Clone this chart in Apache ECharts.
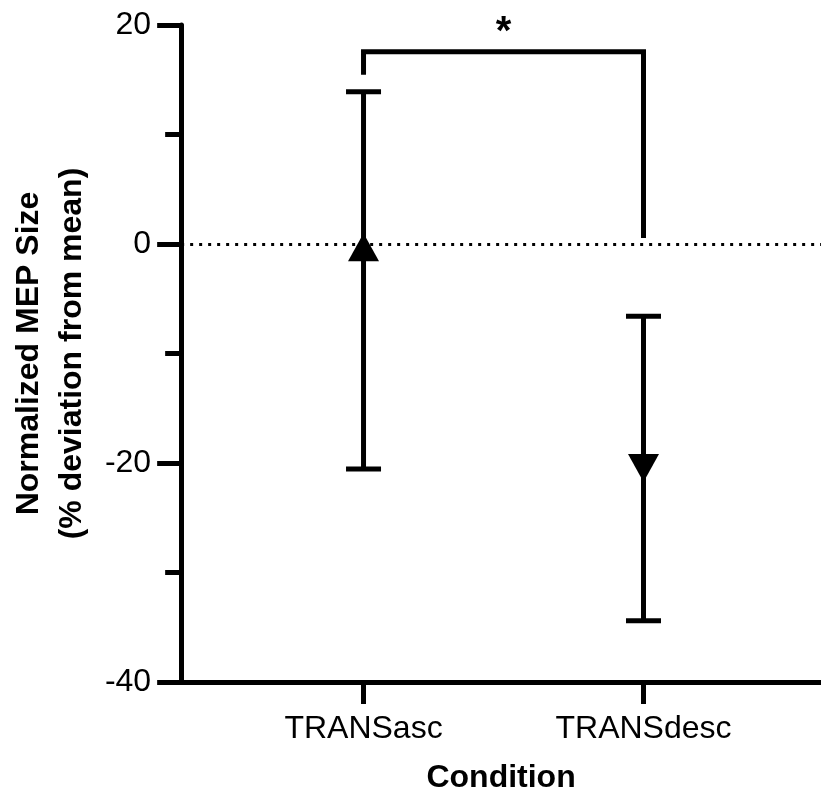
<!DOCTYPE html>
<html>
<head>
<meta charset="utf-8">
<script src="https://cdn.jsdelivr.net/npm/echarts@6/dist/echarts.min.js"></script>
<style>html,body{margin:0;padding:0;background:#fff;}#c{width:821px;height:799px;}</style>
</head>
<body>
<div id="c"></div>
<script>
// ---- data ----
const categories = ['TRANSasc', 'TRANSdesc'];
const catPos = [1, 2];
const means = [-0.3, -20.45];
const upper = [13.9, -6.6];
const lower = [-20.55, -34.4];
const markerSymbols = ['triangle', 'triangle'];
const markerRotate = [0, 180];
const bracketLegBottom = [15.45, 0.55];
const bracketTop = 17.55;
const sigLabel = '*';
const sigY = 19.3;
const yMin = -40, yMax = 20, yInterval = 20;
const xMin = 0.3486, xMax = 2.634;

const FONT = '"Liberation Sans", Arial, Helvetica, sans-serif';
const chart = echarts.init(document.getElementById('c'), null, {renderer: 'canvas'});

const errData = catPos.map((p, i) => [p, upper[i], lower[i]]);
const ptData = catPos.map((p, i) => ({value: [p, means[i]], symbol: markerSymbols[i], symbolRotate: markerRotate[i]}));

chart.setOption({
  animation: false,
  backgroundColor: '#fff',
  grid: {left: 172, right: 0, top: 25, bottom: 114, containLabel: false},
  xAxis: {
    type: 'value', min: xMin, max: xMax,
    name: 'Condition', nameLocation: 'middle', nameGap: 80,
    nameTextStyle: {fontFamily: FONT, fontSize: 32, fontWeight: 'bold', color: '#000'},
    axisLine: {show: true, onZero: false, lineStyle: {color: '#000', width: 5}},
    axisTick: {show: true, length: 22, lineStyle: {color: '#000', width: 5}, customValues: catPos},
    axisLabel: {show: true, margin: 31, fontFamily: FONT, fontSize: 32, color: '#000', customValues: catPos,
      formatter: v => categories[catPos.indexOf(Math.round(v))] || ''},
    splitLine: {show: false}
  },
  yAxis: {
    type: 'value', min: yMin, max: yMax, interval: yInterval,
    name: 'Normalized MEP Size\n(% deviation from mean)', nameLocation: 'middle', nameGap: 78,
    nameTextStyle: {fontFamily: FONT, fontSize: 32, fontWeight: 'bold', color: '#000', lineHeight: 43, align: 'center'},
    axisLine: {show: true, onZero: false, lineStyle: {color: '#000', width: 5}},
    axisTick: {show: true, length: 24, lineStyle: {color: '#000', width: 5}},
    minorTick: {show: true, splitNumber: 2, length: 16, lineStyle: {color: '#000', width: 5}},
    axisLabel: {margin: 30, fontFamily: FONT, fontSize: 32, color: '#000'},
    splitLine: {show: false}
  },
  series: [
    {
      type: 'custom', z: 3, clip: false,
      data: errData,
      renderItem: function (params, api) {
        const top = api.coord([api.value(0), api.value(1)]);
        const bot = api.coord([api.value(0), api.value(2)]);
        const hw = 17.5;
        const st = {stroke: '#000', lineWidth: 5};
        return {type: 'group', children: [
          {type: 'line', shape: {x1: top[0], y1: top[1], x2: bot[0], y2: bot[1]}, style: st},
          {type: 'line', shape: {x1: top[0] - hw, y1: top[1], x2: top[0] + hw, y2: top[1]}, style: st},
          {type: 'line', shape: {x1: bot[0] - hw, y1: bot[1], x2: bot[0] + hw, y2: bot[1]}, style: st}
        ]};
      }
    },
    {
      type: 'scatter', z: 4, symbolSize: [31, 28],
      itemStyle: {color: '#000', opacity: 1},
      data: ptData,
      markLine: {
        silent: true, symbol: 'none', z: 1,
        label: {show: false},
        lineStyle: {color: '#000', width: 3, type: [3, 6], opacity: 1},
        data: [{yAxis: 0}]
      }
    },
    {
      type: 'custom', z: 3, clip: false,
      data: [0],
      renderItem: function (params, api) {
        const a = api.coord([catPos[0], bracketLegBottom[0]]);
        const b = api.coord([catPos[0], bracketTop]);
        const c = api.coord([catPos[1], bracketTop]);
        const d = api.coord([catPos[1], bracketLegBottom[1]]);
        const s = api.coord([(catPos[0] + catPos[1]) / 2, sigY]);
        return {type: 'group', children: [
          {type: 'polyline', shape: {points: [a, b, c, d]}, style: {stroke: '#000', lineWidth: 5, fill: null, lineJoin: 'miter'}},
          {type: 'text', x: s[0], y: s[1], style: {text: sigLabel, fontFamily: FONT, fontSize: 40, fontWeight: 'bold', fill: '#000', align: 'center', verticalAlign: 'middle'}}
        ]};
      }
    }
  ]
});
</script>
</body>
</html>
